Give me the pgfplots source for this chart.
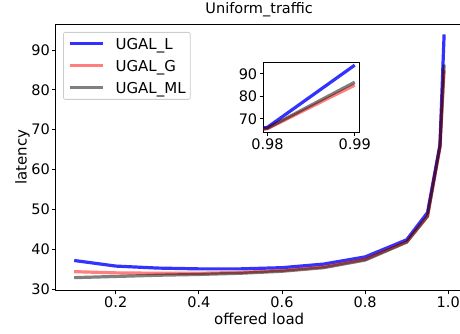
\documentclass[border=0pt]{standalone}
\usepackage{pgfplots}
\pgfplotsset{compat=1.18}
\usepackage{pgfplotstable}
\usepackage{fontspec}
\setmainfont{DejaVu Sans}

\pgfplotstableread{
x     L     G     ML
0.10  37.2  34.4  32.9
0.20  35.8  34.1  33.2
0.30  35.3  34.0  33.5
0.40  35.1  34.0  33.7
0.50  35.1  34.2  34.0
0.60  35.4  34.7  34.5
0.70  36.3  35.6  35.4
0.80  38.1  37.5  37.3
0.90  42.4  41.9  41.8
0.95  49.2  48.3  48.3
0.98  66.2  65.6  65.8
0.99  93.9  85.0  86.3
}\data

\newcommand{\fs}{\fontsize{14.5}{17}\selectfont}

\pgfplotsset{
  mystyle/.style={
    scale only axis,
    tick align=outside,
    major tick length=3.5pt,
    tick pos=left,
    tick style={black, line width=0.8pt},
    axis line style={black, line width=0.8pt},
    /pgf/number format/assume math mode=true,
    xticklabel style={font=\fs, inner sep=0pt, anchor=north, yshift=-3.2pt},
    yticklabel style={font=\fs, inner sep=0pt, anchor=east, xshift=-2.2pt},
  },
  lineL/.style={color={rgb,255:red,0;green,0;blue,255}, opacity=0.8, line width=3.2pt},
  lineG/.style={color={rgb,255:red,255;green,0;blue,0}, opacity=0.5, line width=3.2pt},
  lineML/.style={color=black, opacity=0.5, line width=3.2pt},
}

\begin{document}
\begin{tikzpicture}
\useasboundingbox (-55.7pt,-43pt) rectangle (404.3pt,290pt);
\begin{axis}[
  mystyle,
  width=406.9pt, height=266pt,
  xmin=0.0555, xmax=1.0345, ymin=29.8, ymax=96.5,
  xtick={0.2,0.4,0.6,0.8,1.0}, xticklabels={0.2,0.4,0.6,0.8,1.0},
  ytick={30,40,50,60,70,80,90}, yticklabels={30,40,50,60,70,80,90},
  title={Uniform\_traffic},
  title style={at={(axis description cs:0.5,1.0177)}, anchor=base, font=\fs, inner sep=0pt},
  xlabel={offered load},
  xlabel style={at={(axis description cs:0.5,-0.109)}, anchor=center, font=\fontsize{15}{17}\selectfont, inner sep=0pt},
  ylabel={latency},
  ylabel style={at={(axis description cs:-0.0816,0.5)}, anchor=center, rotate=0, font=\fontsize{15}{17}\selectfont, inner sep=0pt},
  legend cell align=left,
  legend image code/.code={\draw[#1] (0pt,0pt) -- (33pt,0pt); \path (44.3pt,0pt);},
  legend style={at={(axis description cs:0.018,0.970)}, anchor=north west,
    draw=black!20, line width=0.8pt, rounded corners=2pt, fill=white, fill opacity=0.8, text opacity=1,
    font=\fontsize{15}{17}\selectfont, inner xsep=4.7pt, inner ysep=6pt, row sep=11pt,
    nodes={inner sep=0pt, text height=11pt, text depth=0pt}},
]
\addplot[lineL] table[x=x, y=L] {\data};
\addlegendentry{UGAL\_L}
\addplot[lineG] table[x=x, y=G] {\data};
\addlegendentry{UGAL\_G}
\addplot[lineML] table[x=x, y=ML] {\data};
\addlegendentry{UGAL\_ML}
\end{axis}
\begin{axis}[
  mystyle,
  at={(207.3pt,228pt)}, anchor=north west,
  width=96pt, height=70pt,
  axis background/.style={fill=white},
  xmin=0.9795, xmax=0.9905, ymin=64.1, ymax=95.3,
  xtick={0.98,0.99}, xticklabels={0.98,0.99},
  ytick={70,80,90}, yticklabels={70,80,90},
]
\addplot[lineL] table[x=x, y=L] {\data};
\addplot[lineG] table[x=x, y=G] {\data};
\addplot[lineML] table[x=x, y=ML] {\data};
\end{axis}
\end{tikzpicture}
\end{document}
